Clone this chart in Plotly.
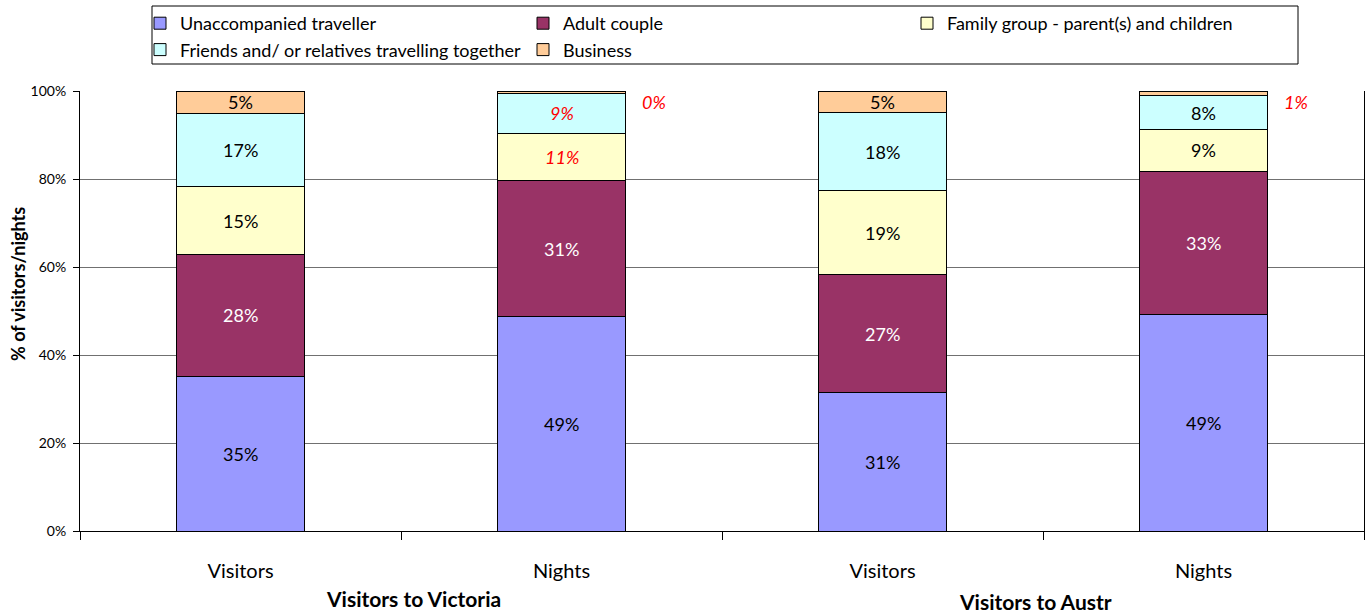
import plotly.graph_objects as go

# ---- data ----
bar_ids = ["vic_visitors", "vic_nights", "aus_visitors", "aus_nights"]
tick_labels = ["Visitors", "Nights", "Visitors", "Nights"]
group_labels = ["Visitors to Victoria", "Visitors to Austr"]

series_names = [
    "Unaccompanied traveller",
    "Adult couple",
    "Family group - parent(s) and children",
    "Friends and/ or relatives travelling together",
    "Business",
]
unaccompanied = [35.2, 48.7, 31.4, 49.2]
adult_couple = [27.6, 30.9, 26.9, 32.6]
family_group = [15.4, 10.8, 19.0, 9.4]
friends_relatives = [16.8, 9.1, 17.9, 7.7]
business = [5.0, 0.4, 4.8, 1.1]

y_ticks = [0, 20, 40, 60, 80, 100]
y_tick_text = ["0%", "20%", "40%", "60%", "80%", "100%"]
y_title = "% of visitors/nights"

# ---- styles ----
colors = ["#9999FF", "#993366", "#FFFFCC", "#CCFFFF", "#FFCC99"]
label_colors = ["black", "white", "black", "black", "black"]
legend_of_series = ["legend", "legend2", "legend3", "legend", "legend2"]
FONT = "Lato, 'Open Sans', sans-serif"

W, H = 1366, 614
L, T = 80, 91
B = H - 531
R = W - 1364
PW, PH = W - L - R, H - T - B


def px_x(sx):
    return (sx - L) / PW


def px_y(sy):
    return (H - B - sy) / PH


series_values = [unaccompanied, adult_couple, family_group, friends_relatives, business]

fig = go.Figure()
for i, (name, vals, col) in enumerate(zip(series_names, series_values, colors)):
    fig.add_trace(go.Bar(
        x=bar_ids, y=vals, name=name, width=0.4,
        marker=dict(color=col, line=dict(color="black", width=1)),
        legend=legend_of_series[i], legendgroup=name,
        hoverinfo="skip",
    ))

annotations = []
for i, bid in enumerate(bar_ids):
    base = 0.0
    for s, vals in enumerate(series_values):
        v = vals[i]
        txt = f"{round(v):d}%"
        red = (bid == "vic_nights" and s >= 2) or (bid == "aus_nights" and s == 4)
        color = "#FF0000" if red else label_colors[s]
        if v < 3:
            annotations.append(dict(
                x=bid, y=100, xref="x", yref="y", text=f"<i>{txt}</i>",
                showarrow=False, xanchor="center", yanchor="top",
                xshift=92, yshift=2,
                font=dict(family=FONT, size=18, color=color)))
        else:
            t = f"<i>{txt}</i>" if red else txt
            annotations.append(dict(
                x=bid, y=base + v / 2, xref="x", yref="y", text=t,
                showarrow=False, xanchor="center", yanchor="middle",
                font=dict(family=FONT, size=18, color=color)))
        base += v

annotations.append(dict(x=px_x(413), y=px_y(598), xref="paper", yref="paper",
                        text="<b>" + group_labels[0] + "</b>", showarrow=False,
                        xanchor="center", yanchor="middle",
                        font=dict(family=FONT, size=21, color="black")))
annotations.append(dict(x=px_x(1035), y=px_y(601), xref="paper", yref="paper",
                        text="<b>" + group_labels[1] + "</b>", showarrow=False,
                        xanchor="center", yanchor="middle",
                        font=dict(family=FONT, size=21, color="black")))
annotations.append(dict(x=px_x(18), y=px_y(284), xref="paper", yref="paper",
                        text="<b>" + y_title + "</b>", showarrow=False, textangle=-90,
                        xanchor="center", yanchor="middle",
                        font=dict(family=FONT, size=18, color="black")))

leg_common = dict(orientation="v", xanchor="left", yanchor="top",
                  bgcolor="rgba(0,0,0,0)", borderwidth=0, itemwidth=30,
                  tracegroupgap=0, traceorder="normal",
                  font=dict(family=FONT, size=18, color="black"))

fig.update_layout(
    barmode="stack",
    width=W, height=H,
    margin=dict(l=L, r=R, t=T, b=B, autoexpand=False),
    paper_bgcolor="white", plot_bgcolor="white",
    font=dict(family=FONT, color="black"),
    annotations=annotations,
    legend=dict(x=px_x(140), y=px_y(5), **leg_common),
    legend2=dict(x=px_x(523), y=px_y(5), **leg_common),
    legend3=dict(x=px_x(907), y=px_y(5), **leg_common),
    shapes=[dict(type="rect", xref="paper", yref="paper",
                 x0=px_x(152), x1=px_x(1298), y0=px_y(64), y1=px_y(6),
                 line=dict(color="black", width=1), fillcolor="rgba(0,0,0,0)")],
    xaxis=dict(
        tickmode="array", tickvals=bar_ids, ticktext=tick_labels,
        tickson="boundaries", ticks="outside", ticklen=8, tickcolor="black",
        showline=True, linecolor="black", linewidth=1, mirror=False,
        showgrid=False, ticklabelstandoff=22,
        tickfont=dict(family=FONT, size=20, color="black"),
        range=[-0.5, 3.5],
    ),
    yaxis=dict(
        range=[0, 100], tickvals=y_ticks, ticktext=y_tick_text,
        ticks="outside", ticklen=6, tickcolor="black", ticklabelstandoff=4,
        showline=True, linecolor="black", linewidth=1, mirror=True,
        showgrid=True, gridcolor="#707070", gridwidth=1,
        tickfont=dict(family=FONT, size=14, color="black"),
        zeroline=False,
    ),
)

# remove the default page margin so the figure sits at the window origin
fig.write_html("out.html", config={"displayModeBar": False},
               post_script="document.body.style.margin='0';")
